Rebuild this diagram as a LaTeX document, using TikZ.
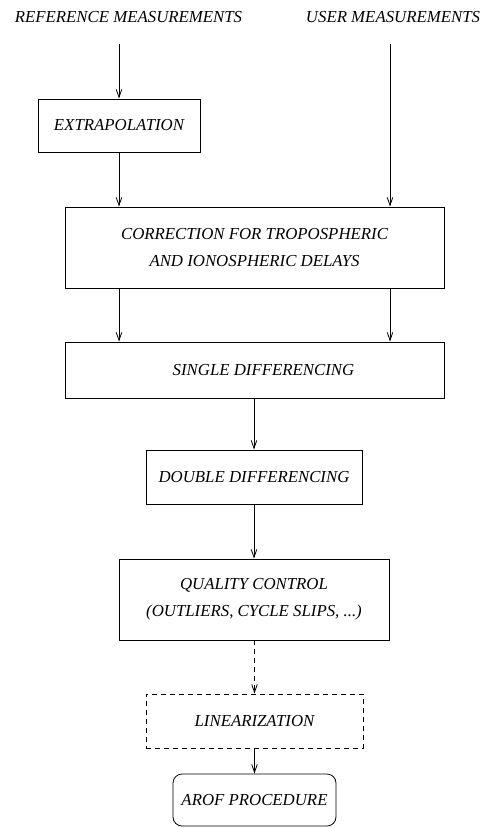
\documentclass[tikz,border=0pt]{standalone}
\usepackage{fontspec}
\setmainfont{Liberation Serif}
\usetikzlibrary{arrows.meta,calc}
\begin{document}
\begin{tikzpicture}[x=1pt,y=-1pt,
  txt/.style={font=\fontsize{16.8}{27}\selectfont\itshape, align=center, inner sep=0pt},
  box/.style={txt, draw, line width=0.8pt, minimum width=#1},
  conn/.style={line width=0.8pt, -{Straight Barb[length=8pt,width=5.5pt,line width=0.8pt]}},
  dsh/.style={dash pattern=on 5pt off 4pt}]
\useasboundingbox (0,0) rectangle (488,828);
\node[txt] (ref) at (128.5,17) {REFERENCE MEASUREMENTS};
\node[txt] (user) at (393,17) {USER MEASUREMENTS};
\node[box=162pt, minimum height=53pt] (extr) at (119,125.5) {EXTRAPOLATION};
\node[box=379pt, minimum height=81pt] (corr) at (254.5,247.5) {CORRECTION FOR TROPOSPHERIC\\AND IONOSPHERIC DELAYS};
\node[box=379pt, minimum height=56pt] (single) at (254.5,370) {\hspace{18pt}SINGLE DIFFERENCING};
\node[box=216pt, minimum height=54pt] (double) at (254,477) {DOUBLE DIFFERENCING};
\node[box=270pt, minimum height=81pt] (qual) at (254,599.5) {QUALITY CONTROL\\(OUTLIERS, CYCLE SLIPS, ...)};
\node[box=217pt, minimum height=54pt, dsh] (lin) at (254.5,721) {LINEARIZATION};
\node[box=163pt, minimum height=52pt, rounded corners=9pt] (arof) at (254.5,800) {AROF PROCEDURE};
\coordinate (r0) at (119,44);
\coordinate (u0) at (390,44);
\draw[conn] (r0) -- (extr.north);
\draw[conn] (extr.south) -- (extr.south |- corr.north);
\draw[conn] (u0) -- (u0 |- corr.north);
\draw[conn] (extr.south |- corr.south) -- (extr.south |- single.north);
\draw[conn] (u0 |- corr.south) -- (u0 |- single.north);
\draw[conn] (single.south -| double.north) -- (double.north);
\draw[conn] (double.south) -- (double.south |- qual.north);
\draw[conn, dsh] (qual.south -| lin.north) -- (lin.north);
\draw[conn] (lin.south) -- (arof.north);
\end{tikzpicture}
\end{document}
